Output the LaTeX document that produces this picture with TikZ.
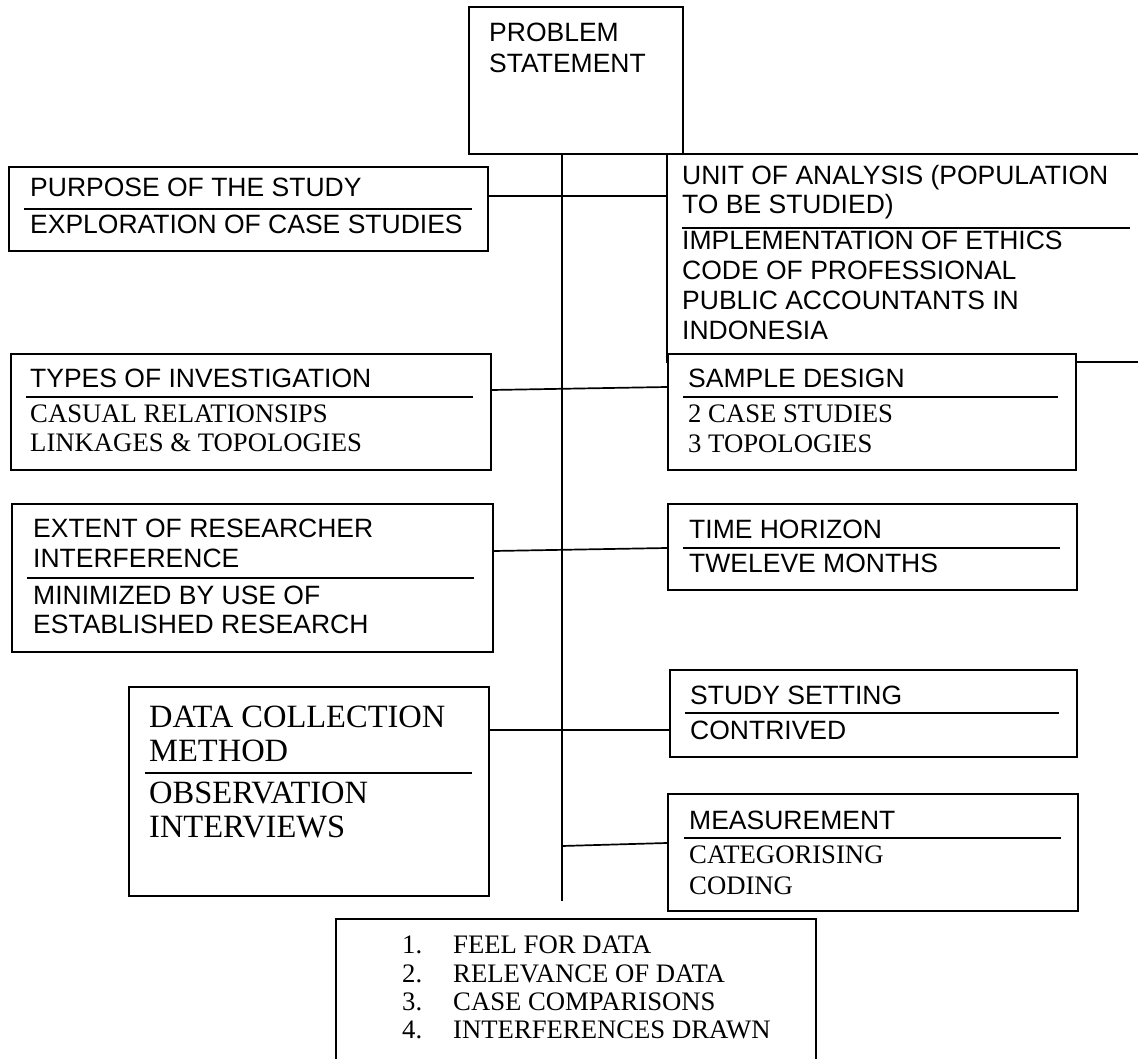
\documentclass[tikz,border=0pt]{standalone}
\usepackage{fontspec}
\setmainfont{Liberation Serif}
\newfontfamily\arialf{Liberation Sans}
\begin{document}
\begin{tikzpicture}[x=1pt,y=-1pt,
  box/.style={draw, line width=1.7pt, inner sep=0pt, anchor=north west, fill=white},
  sf/.style={font=\arialf\fontsize{26.5}{30}\selectfont, anchor=base west, inner sep=0pt},
  rm/.style={font=\fontsize{26.7}{30}\selectfont, anchor=base west, inner sep=0pt},
  rmbig/.style={font=\fontsize{32.5}{37}\selectfont, anchor=base west, inner sep=0pt},
  rulel/.style={line width=1.7pt},
  conn/.style={line width=1.7pt}]
\useasboundingbox[fill=white] (0,0) rectangle (1138,1059);

% boxes
\node[box, minimum width=214pt, minimum height=147pt] (problem) at (468,6) {};
\node[box, minimum width=479pt, minimum height=84pt] (purpose) at (8,166) {};
\node[box, minimum width=480pt, minimum height=208pt] (unit) at (666,153) {};
\node[box, minimum width=480pt, minimum height=116pt] (types) at (10,353) {};
\node[box, minimum width=408pt, minimum height=116pt] (sample) at (667,353) {};
\node[box, minimum width=481pt, minimum height=148pt] (extent) at (11,503) {};
\node[box, minimum width=409pt, minimum height=86pt] (time) at (667,503) {};
\node[box, minimum width=360pt, minimum height=209pt] (data) at (128,686) {};
\node[box, minimum width=407pt, minimum height=87pt] (study) at (669,669) {};
\node[box, minimum width=410pt, minimum height=117pt] (meas) at (667,793) {};
\node[box, minimum width=480pt, minimum height=160pt] (bottom) at (335,918) {};

% problem
\node[sf] (p1) at (489,42) {PROBLEM};
\node[sf] (p2) at (489,73) {STATEMENT};

% purpose
\node[sf] (pu1) at (30,197) {PURPOSE OF THE STUDY};
\draw[rulel] (24,209) -- (472,209);
\node[sf] (pu2) at (30,234) {EXPLORATION OF CASE STUDIES};

% unit
\node[sf] (u1) at (682,185) {UNIT OF ANALYSIS (POPULATION};
\node[sf] (u2) at (682,214) {TO BE STUDIED)};
\draw[rulel] (682,228) -- (1130,228);
\node[sf] (u3) at (682,250) {IMPLEMENTATION OF ETHICS};
\node[sf] (u4) at (682,280) {CODE OF PROFESSIONAL};
\node[sf] (u5) at (682,310) {PUBLIC ACCOUNTANTS IN};
\node[sf] (u6) at (682,340) {INDONESIA};

% types
\node[sf] (ty1) at (30,387) {TYPES OF INVESTIGATION};
\draw[rulel] (26,397) -- (473,397);
\node[rm] (ty2) at (30,422) {CASUAL RELATIONSIPS};
\node[rm] (ty3) at (30,451) {LINKAGES \& TOPOLOGIES};

% sample
\node[sf] (s1) at (688,387) {SAMPLE DESIGN};
\draw[rulel] (683,397) -- (1058,397);
\node[rm] (s2) at (688,422) {2 CASE STUDIES};
\node[rm] (s3) at (688,452) {3 TOPOLOGIES};

% extent
\node[sf] (e1) at (33,537) {EXTENT OF RESEARCHER};
\node[sf] (e2) at (33,567) {INTERFERENCE};
\draw[rulel] (27,578) -- (474,578);
\node[sf] (e3) at (33,604) {MINIMIZED BY USE OF};
\node[sf] (e4) at (33,633) {ESTABLISHED RESEARCH};

% time
\node[sf] (ti1) at (689,538) {TIME HORIZON};
\draw[rulel] (683,548) -- (1060,548);
\node[sf] (ti2) at (689,572) {TWELEVE MONTHS};

% data
\node[rmbig] (d1) at (149,727) {DATA COLLECTION};
\node[rmbig] (d2) at (149,761) {METHOD};
\draw[rulel] (145,773) -- (472,773);
\node[rmbig] (d3) at (149,803) {OBSERVATION};
\node[rmbig] (d4) at (149,837) {INTERVIEWS};

% study
\node[sf] (st1) at (690,704) {STUDY SETTING};
\draw[rulel] (685,713) -- (1059,713);
\node[sf] (st2) at (690,739) {CONTRIVED};

% measurement
\node[sf] (m1) at (689,829) {MEASUREMENT};
\draw[rulel] (684,838) -- (1061,838);
\node[rm] (m2) at (689,863) {CATEGORISING};
\node[rm] (m3) at (689,894) {CODING};

% bottom list
\node[rm] (b1n) at (402,953) {1.};
\node[rm] (b1) at (453,953) {FEEL FOR DATA};
\node[rm] (b2n) at (402,982) {2.};
\node[rm] (b2) at (453,982) {RELEVANCE OF DATA};
\node[rm] (b3n) at (402,1010) {3.};
\node[rm] (b3) at (453,1010) {CASE COMPARISONS};
\node[rm] (b4n) at (402,1038) {4.};
\node[rm] (b4) at (453,1038) {INTERFERENCES DRAWN};

% connector helper coordinates
\coordinate (spbot) at (562,901);
\coordinate (yPu) at (0,196);
\coordinate (yTyL) at (0,390);
\coordinate (yTyR) at (0,387);
\coordinate (yExL) at (0,551);
\coordinate (yExR) at (0,548);
\coordinate (yDa) at (0,730);
\coordinate (yMeL) at (0,846);
\coordinate (yMeR) at (0,843);

% connectors
\draw[conn] (problem.south -| spbot) -- (spbot);
\draw[conn] (purpose.east |- yPu) -- (unit.west |- yPu);
\draw[conn] (types.east |- yTyL) -- (sample.west |- yTyR);
\draw[conn] (extent.east |- yExL) -- (time.west |- yExR);
\draw[conn] (data.east |- yDa) -- (study.west |- yDa);
\draw[conn] (spbot |- yMeL) -- (meas.west |- yMeR);
\end{tikzpicture}
\end{document}
